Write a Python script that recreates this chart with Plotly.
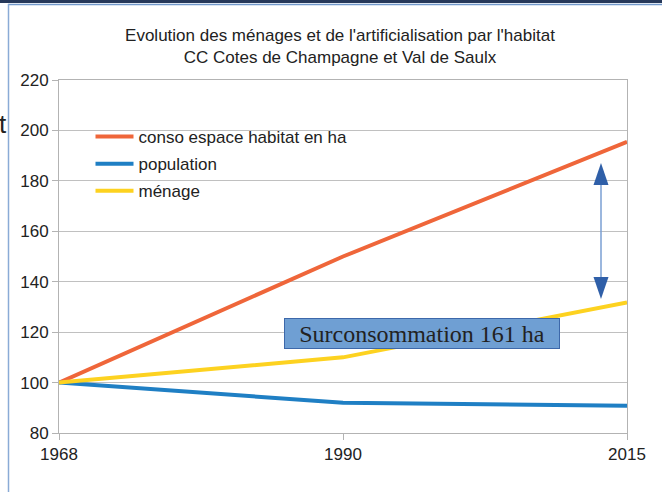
import plotly.graph_objects as go

years = ["1968", "1990", "2015"]
conso = [100, 150, 195.5]
population = [100, 92, 90.8]
menage = [100, 110, 131.8]
y_ticks = [80, 100, 120, 140, 160, 180, 200, 220]

WIDTH, HEIGHT = 662, 492
L, R, T, B = 59, 35, 80, 59
PW = WIDTH - L - R
PH = HEIGHT - T - B


def px(x):
    return (x - L) / PW


def py(y):
    return (HEIGHT - B - y) / PH


FONT = "Liberation Sans, Arial, sans-serif"
FS = 17

fig = go.Figure()
series = [
    ("conso espace habitat en ha", conso, "#ef663a"),
    ("population", population, "#1f7fc4"),
    ("ménage", menage, "#fdd220"),
]
for i, (name, vals, col) in enumerate(series):
    fig.add_trace(go.Scatter(
        x=years, y=vals, mode="lines", name=name,
        line=dict(color=col, width=4),
        legendgroup="g%d" % i,
    ))

shapes = [
    # slide frame
    dict(type="rect", xref="paper", yref="paper", x0=px(0), x1=px(WIDTH), y0=py(0), y1=py(3),
         fillcolor="#27395a", line=dict(width=0), layer="above"),
    dict(type="line", xref="paper", yref="paper", x0=px(8), x1=px(WIDTH), y0=py(4.5), y1=py(4.5),
         line=dict(color="#7299cb", width=1.5), layer="above"),
    dict(type="line", xref="paper", yref="paper", x0=px(8.5), x1=px(8.5), y0=py(4), y1=py(HEIGHT),
         line=dict(color="#8aabd6", width=1.5), layer="above"),
    # double arrow
    dict(type="line", xref="paper", yref="paper", x0=px(601), x1=px(601), y0=py(180), y1=py(282),
         line=dict(color="#7a9fd3", width=1.5), layer="above"),
    dict(type="path", xref="paper", yref="paper",
         path="M%f,%f L%f,%f L%f,%f Z" % (px(601), py(163), px(593.5), py(185), px(608.5), py(185)),
         fillcolor="#2f5fa8", line=dict(width=0), layer="above"),
    dict(type="path", xref="paper", yref="paper",
         path="M%f,%f L%f,%f L%f,%f Z" % (px(601), py(299), px(593.5), py(277), px(608.5), py(277)),
         fillcolor="#2f5fa8", line=dict(width=0), layer="above"),
]

annotations = [
    dict(text="Surconsommation 161 ha", xref="paper", yref="paper", x=px(422), y=py(333.5),
         xanchor="center", yanchor="middle", showarrow=False,
         font=dict(family="Liberation Serif, Times New Roman, serif", size=24, color="#222222"),
         bgcolor="#6f9fd3", bordercolor="#3d68aa", borderwidth=1, width=272, height=27),
    dict(text="t", xref="paper", yref="paper", x=px(9), y=py(124),
         xanchor="right", yanchor="middle", showarrow=False,
         font=dict(family=FONT, size=26, color="#222222")),
]

fig.update_layout(
    width=WIDTH, height=HEIGHT,
    margin=dict(l=L, r=R, t=T, b=B),
    paper_bgcolor="white", plot_bgcolor="white",
    font=dict(family=FONT, size=FS, color="#222222"),
    title=dict(
        text="Evolution des ménages et de l'artificialisation par l'habitat<br>CC Cotes de Champagne et Val de Saulx",
        x=340 / WIDTH, xanchor="center", y=1 - 41 / HEIGHT, yanchor="middle",
        font=dict(family=FONT, size=FS, color="#222222"),
    ),
    showlegend=True,
    legend=dict(
        x=px(90.5), y=py(119), xanchor="left", yanchor="top",
        bgcolor="rgba(0,0,0,0)", borderwidth=0,
        font=dict(family=FONT, size=FS, color="#222222"),
        tracegroupgap=2, itemwidth=38,
    ),
    xaxis=dict(
        type="category", range=[0, 2], showgrid=False,
        showline=True, linecolor="#b3b3b3", linewidth=1, mirror=True,
        ticks="outside", ticklen=6, tickcolor="#b3b3b3",
        tickfont=dict(family=FONT, size=FS, color="#222222"),
    ),
    yaxis=dict(
        range=[80, 220], tickvals=y_ticks, showgrid=True, gridcolor="#c0c0c0", gridwidth=1,
        showline=True, linecolor="#b3b3b3", linewidth=1, mirror=True,
        ticks="outside", ticklen=6, tickcolor="#b3b3b3", zeroline=False,
        tickfont=dict(family=FONT, size=FS, color="#222222"),
    ),
    shapes=shapes,
    annotations=annotations,
)

fig.write_html("out.html", config={"displayModeBar": False},
               post_script="document.body.style.margin='0px';")
